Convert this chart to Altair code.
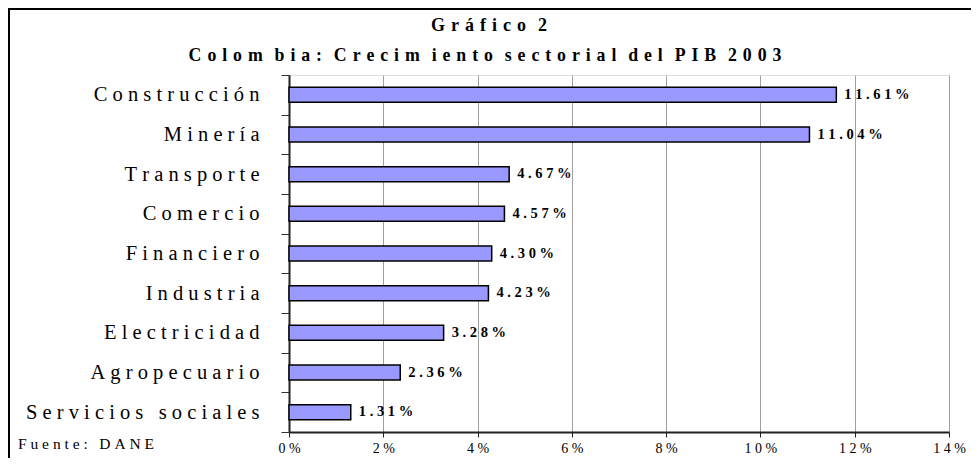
import altair as alt
import pandas as pd

categories = ["Construcción", "Minería", "Transporte", "Comercio", "Financiero",
              "Industria", "Electricidad", "Agropecuario", "Servicios sociales"]
values = [11.61, 11.04, 4.67, 4.57, 4.30, 4.23, 3.28, 2.36, 1.31]
x_ticks = [0, 2, 4, 6, 8, 10, 12, 14]
title_lines = ["Gráfico 2", "Colombia: Crecimiento sectorial del PIB 2003"]
source_note = "Fuente: DANE"

NB = "\u00a0"


def spaced(text, sep=NB, word_sep=NB * 3, m_gap=""):
    out = []
    for w in text.split(" "):
        chars = [c + (m_gap if c == "m" else "") for c in w]
        out.append(sep.join(chars))
    return word_sep.join(out)


df = pd.DataFrame({
    "label": [spaced(c) for c in categories],
    "value": values,
    "text": [spaced(f"{v:.2f}%") for v in values],
})

tick_expr = " : ".join(f"datum.value == {v} ? '{spaced(str(v) + '%')}'" for v in x_ticks) + " : ''"

tsep = NB + "\u200a"
title_df = pd.DataFrame({
    "t": [spaced(t, sep=tsep, word_sep=tsep * 2, m_gap=tsep) for t in title_lines],
})

y = alt.Y("label:N", sort=None,
          scale=alt.Scale(paddingInner=0, paddingOuter=0),
          axis=alt.Axis(title=None, tickBand="extent", labelFont="Liberation Serif",
                        labelFontSize=20.5, labelColor="black", labelPadding=22,
                        tickSize=8, tickColor="#333", domainColor="#222",
                        domainWidth=2, grid=False, labelLimit=400))
x = alt.X("value:Q", scale=alt.Scale(domain=[0, 14], nice=False),
          axis=alt.Axis(values=x_ticks, title=None, grid=True, gridColor="#a0a0a0",
                        gridWidth=1, tickSize=5, tickColor="#222",
                        labelExpr=tick_expr, labelFlush=False,
                        labelFont="Liberation Serif", labelFontSize=14,
                        labelColor="black", labelPadding=4,
                        domainColor="#222", domainWidth=2))

base = alt.Chart(df)
bars = base.mark_bar(color="#9999FF", stroke="black", strokeWidth=1.5,
                     height=alt.RelativeBandSize(0.38)).encode(x=x, y=y)
labels = base.mark_text(align="left", baseline="middle", dx=8, font="Liberation Serif",
                        fontWeight="bold", fontSize=14.5, color="black").encode(
    x="value:Q", y=alt.Y("label:N", sort=None), text="text:N")

border = alt.Chart(alt.Data(values=[{"a": 1}])).mark_rect(
    fill="transparent", stroke="black", strokeWidth=2).encode(
    x=alt.value(-280), x2=alt.value(720), y=alt.value(-66), y2=alt.value(420))

note = alt.Chart(alt.Data(values=[{"t": spaced(source_note)}])).mark_text(
    align="left", baseline="middle", font="Liberation Serif", fontSize=15.5,
    color="black").encode(x=alt.value(-271), y=alt.value(369), text="t:N")

title1 = alt.Chart(title_df.iloc[[0]]).mark_text(
    align="center", baseline="middle", font="Liberation Serif", fontWeight="bold",
    fontSize=18, color="black").encode(x=alt.value(200), y=alt.value(-49), text="t:N")
title2 = alt.Chart(title_df.iloc[[1]]).mark_text(
    align="center", baseline="middle", font="Liberation Serif", fontWeight="bold",
    fontSize=17.8, color="black").encode(x=alt.value(196), y=alt.value(-19), text="t:N")

chart = alt.layer(border, bars, labels, note, title1, title2).properties(
    width=660, height=357,
    padding={"left": 281, "top": 67, "right": 22, "bottom": 26},
    autosize=alt.AutoSizeParams(type="none"),
).configure_view(stroke="#888", strokeWidth=1.5).configure(background="white")

chart.save("out.html", embed_options={"renderer": "svg", "actions": False})
